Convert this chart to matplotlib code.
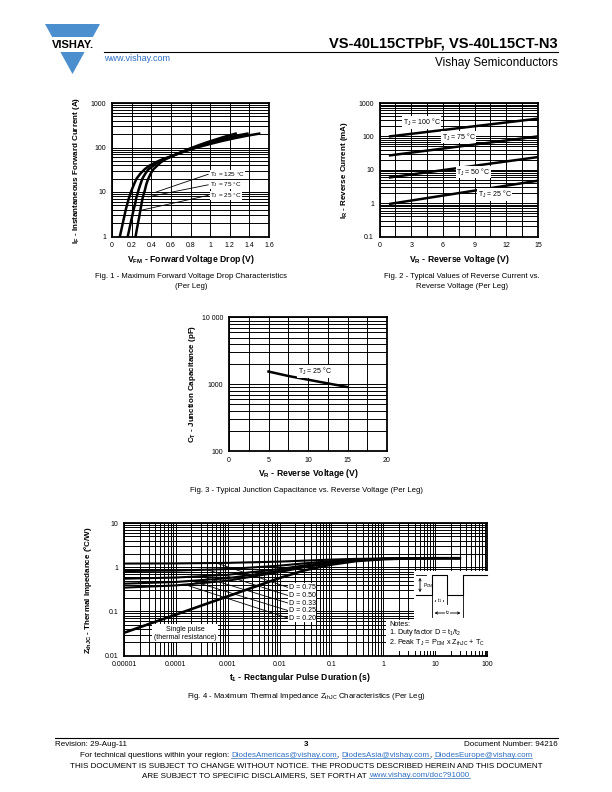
import math
import numpy as np
import matplotlib
matplotlib.use("Agg")
import matplotlib.pyplot as plt
from matplotlib import ticker
from matplotlib.patches import Polygon, Rectangle

plt.rcParams['font.family'] = ['Liberation Sans', 'DejaVu Sans']
plt.rcParams['mathtext.fontset'] = 'custom'
plt.rcParams['mathtext.rm'] = 'Liberation Sans'
plt.rcParams['mathtext.bf'] = 'Liberation Sans:bold'
plt.rcParams['mathtext.it'] = 'Liberation Sans:italic'

W, H = 612, 792

# Fig. 1 - forward voltage drop (V, A)
vf_125 = [0.08, 0.095, 0.11, 0.125, 0.14, 0.155, 0.17, 0.185, 0.20, 0.225, 0.25, 0.29, 0.33, 0.38, 0.45,
          0.52, 0.60, 0.70, 0.80, 0.90, 1.00, 1.12, 1.25, 1.37, 1.50]
if_125 = [1, 1.4, 2, 2.8, 4, 5.3, 7, 8.8, 11, 15, 20, 26, 32, 39, 47, 55, 63, 76, 90, 105, 120, 140, 162, 183, 205]
vf_75 = [0.16, 0.175, 0.19, 0.205, 0.22, 0.235, 0.245, 0.258, 0.27, 0.29, 0.31, 0.34, 0.37, 0.42, 0.47,
         0.53, 0.60, 0.70, 0.80, 0.90, 1.00, 1.10, 1.20, 1.29, 1.38]
if_75 = [1, 1.4, 2, 2.8, 4, 5.3, 7, 8.8, 11, 15, 20, 26, 32, 39, 47, 55, 63, 77, 93, 110, 128, 148, 170, 188, 205]
vf_25 = [0.24, 0.252, 0.265, 0.278, 0.29, 0.30, 0.31, 0.322, 0.335, 0.35, 0.37, 0.395, 0.42, 0.46, 0.50,
         0.55, 0.60, 0.70, 0.80, 0.90, 1.00, 1.13, 1.26]
if_25 = [1, 1.4, 2, 2.8, 4, 5.3, 7, 8.8, 11, 15, 20, 26, 32, 39, 47, 55, 62, 78, 96, 116, 138, 170, 205]

# Fig. 2 - reverse current (V, mA)
vr2 = [1, 15]
ir_100 = [100, 340]
ir_75 = [27, 100]
ir_50 = [5.9, 24]
ir_25 = [0.95, 4.7]

# Fig. 3 - junction capacitance (V, pF)
vr3 = [5, 7.5, 10, 12.5, 15]
ct = [1550, 1330, 1170, 1030, 910]

# Fig. 4 - thermal impedance (s, degC/W)
t1 = [1e-5, 1e-4, 1e-3, 1e-2, 3e-2, 0.1, 0.3, 1, 3, 10, 30]
z_single = [0.033, 0.085, 0.22, 0.57, 0.85, 1.15, 1.38, 1.52, 1.58, 1.60, 1.60]
z_d75 = [1.21, 1.22, 1.255, 1.34, 1.41, 1.49, 1.545, 1.58, 1.595, 1.60, 1.60]
z_d50 = [0.82, 0.84, 0.91, 1.085, 1.225, 1.375, 1.49, 1.56, 1.59, 1.60, 1.60]
z_d33 = [0.55, 0.585, 0.675, 0.91, 1.10, 1.30, 1.45, 1.55, 1.59, 1.60, 1.60]
z_d25 = [0.425, 0.464, 0.565, 0.83, 1.04, 1.26, 1.435, 1.54, 1.585, 1.60, 1.60]
z_d20 = [0.346, 0.388, 0.496, 0.776, 1.00, 1.24, 1.42, 1.54, 1.584, 1.60, 1.60]
d_labels = ['D = 0.75', 'D = 0.50', 'D = 0.33', 'D = 0.25', 'D = 0.20']
d_label_z = [0.35, 0.23, 0.155, 0.105, 0.071]
d_leader_t = [6e-4, 4e-4, 3e-4, 2e-4, 1.5e-4]

LINK = '#2f6fc2'

fig = plt.figure(figsize=(W / 100, H / 100), dpi=100)

page = fig.add_axes([0, 0, 1, 1], zorder=10)
page.set_xlim(0, W)
page.set_ylim(H, 0)
page.axis('off')
page.patch.set_visible(False)


def box(l, r, t, b):
    return [l / W, 1 - b / H, (r - l) / W, (b - t) / H]


def dec_fmt(v, p):
    return f'{v:.{max(0, -int(round(math.log10(v))))}f}'


def log_axes(rect, xlim, ylim, xgrid, xlab_step, ylabels):
    ax = fig.add_axes(rect)
    ax.set_yscale('log')
    ax.set_xlim(*xlim)
    ax.set_ylim(*ylim)
    ax.xaxis.set_major_locator(ticker.MultipleLocator(xlab_step))
    ax.xaxis.set_minor_locator(ticker.MultipleLocator(xgrid))
    ax.xaxis.set_major_formatter(ticker.FuncFormatter(lambda v, p: f'{v:g}' if abs(v) > 1e-9 else '0'))
    ax.yaxis.set_major_locator(ticker.LogLocator(base=10, numticks=10))
    ax.yaxis.set_minor_locator(ticker.LogLocator(base=10, subs=range(2, 10), numticks=10))
    ax.yaxis.set_major_formatter(ticker.FuncFormatter(lambda v, p: ylabels.get(round(v, 6), '')))
    ax.yaxis.set_minor_formatter(ticker.NullFormatter())
    ax.grid(which='both', color='black', lw=0.7)
    ax.tick_params(which='both', length=0, labelsize=5, pad=4)
    for s in ax.spines.values():
        s.set_linewidth(1.3)
    return ax


def label_box(ax, x, y, s, ha='left', size=5.0, pad=0.4):
    ax.text(x, y, s, fontsize=size, ha=ha, va='center',
            bbox=dict(fc='white', ec='none', pad=pad), zorder=5)


# header
page.add_patch(Polygon([[45, 24], [100, 24], [72.5, 74]], closed=True, fc='#4b8fce', ec='none'))
page.add_patch(Rectangle((44, 37), 58, 15, fc='white', ec='none'))
page.text(72.5, 45, 'VISHAY.', fontsize=8, fontweight='bold', ha='center', va='center')
page.plot([104, 558], [52, 52], color='black', lw=0.8)
page.text(558, 48, 'VS-40L15CTPbF, VS-40L15CT-N3', fontsize=10.5, fontweight='bold', ha='right', va='baseline')
page.text(104, 61, 'www.vishay.com', fontsize=6.5, color=LINK, ha='left', va='baseline')
page.text(558, 66, 'Vishay Semiconductors', fontsize=8.5, ha='right', va='baseline')

# Fig. 1
ax1 = log_axes(box(112, 269, 103, 236.5), (0, 1.6), (1, 1000), 0.2, 0.2,
               {1: '1', 10: '10', 100: '100', 1000: '1000'})
for v, i in [(vf_125, if_125), (vf_75, if_75), (vf_25, if_25)]:
    ax1.plot(v, i, color='black', lw=1.8, zorder=3, solid_joinstyle='round')
ax1.plot([0.45, 0.98], [10, 25], color='black', lw=0.6, zorder=4)
ax1.plot([0.37, 0.98], [7.8, 14.5], color='black', lw=0.6, zorder=4)
ax1.plot([0.30, 0.98], [3.9, 8.4], color='black', lw=0.6, zorder=4)
label_box(ax1, 1.0, 25, r'T$_\mathregular{J}$ = 125 °C', size=4.6, pad=0.1)
label_box(ax1, 1.0, 14.5, r'T$_\mathregular{J}$ = 75 °C', size=4.6, pad=0.1)
label_box(ax1, 1.0, 8.4, r'T$_\mathregular{J}$ = 25 °C', size=4.6, pad=0.1)
page.text(76, 170, r'I$_\mathbf{F}$ - Instantaneous Forward Current (A)', fontsize=5.8, fontweight='bold',
          rotation=90, ha='center', va='center')
page.text(191, 259, r'V$_\mathbf{FM}$ - Forward Voltage Drop (V)', fontsize=6.2, fontweight='bold',
          ha='center', va='center')
page.text(191, 277, 'Fig. 1 - Maximum Forward Voltage Drop Characteristics', fontsize=5.6, ha='center', va='center')
page.text(191, 287, '(Per Leg)', fontsize=5.6, ha='center', va='center')

# Fig. 2
ax2 = log_axes(box(379.5, 538, 103, 236.5), (0, 15), (0.1, 1000), 1.5, 3,
               {0.1: '0.1', 1: '1', 10: '10', 100: '100', 1000: '1000'})
for i in [ir_100, ir_75, ir_50, ir_25]:
    ax2.plot(vr2, i, color='black', lw=1.8, zorder=3)
label_box(ax2, 4.0, 260, r'T$_\mathregular{J}$ = 100 °C', ha='center')
label_box(ax2, 7.5, 96, r'T$_\mathregular{J}$ = 75 °C', ha='center')
label_box(ax2, 8.9, 8.6, r'T$_\mathregular{J}$ = 50 °C', ha='center')
label_box(ax2, 10.9, 1.8, r'T$_\mathregular{J}$ = 25 °C', ha='center')
page.text(344, 170, r'I$_\mathbf{R}$ - Reverse Current (mA)', fontsize=5.8, fontweight='bold',
          rotation=90, ha='center', va='center')
page.text(459, 259, r'V$_\mathbf{R}$ - Reverse Voltage (V)', fontsize=6.2, fontweight='bold',
          ha='center', va='center')
page.text(462, 277, 'Fig. 2 - Typical Values of Reverse Current vs.', fontsize=5.6, ha='center', va='center')
page.text(462, 287, 'Reverse Voltage (Per Leg)', fontsize=5.6, ha='center', va='center')

# Fig. 3
ax3 = log_axes(box(229, 387, 317.5, 451), (0, 20), (100, 10000), 2.5, 5,
               {100: '100', 1000: '1000', 10000: '10 000'})
ax3.plot(vr3, ct, color='black', lw=1.8, zorder=3)
label_box(ax3, 10.9, 1560, r'T$_\mathregular{J}$ = 25 °C', ha='center')
page.text(192, 384, r'C$_\mathbf{T}$ - Junction Capacitance (pF)', fontsize=5.8, fontweight='bold',
          rotation=90, ha='center', va='center')
page.text(308, 473, r'V$_\mathbf{R}$ - Reverse Voltage (V)', fontsize=6.2, fontweight='bold',
          ha='center', va='center')
page.text(306, 491, 'Fig. 3 - Typical Junction Capacitance vs. Reverse Voltage (Per Leg)', fontsize=5.6,
          ha='center', va='center')

# Fig. 4
ax4 = fig.add_axes(box(124, 487, 523, 655.7))
ax4.set_xscale('log')
ax4.set_yscale('log')
ax4.set_xlim(1e-5, 100)
ax4.set_ylim(0.01, 10)
for axis in [ax4.xaxis, ax4.yaxis]:
    axis.set_major_locator(ticker.LogLocator(base=10, numticks=12))
    axis.set_minor_locator(ticker.LogLocator(base=10, subs=range(2, 10), numticks=12))
    axis.set_minor_formatter(ticker.NullFormatter())
    axis.set_major_formatter(ticker.FuncFormatter(dec_fmt))
ax4.grid(which='both', color='black', lw=0.7)
ax4.tick_params(which='both', length=0, labelsize=5, pad=4)
for s in ax4.spines.values():
    s.set_linewidth(1.3)
curves = [z_d75, z_d50, z_d33, z_d25, z_d20]
for z in curves:
    ax4.plot(t1, z, color='black', lw=1.5, zorder=3)
ax4.plot(t1, z_single, color='black', lw=1.9, zorder=3)
for lab, zl, tl, zc in zip(d_labels, d_label_z, d_leader_t, curves):
    # leader line from the curve to its label
    z0 = 10 ** np.interp(np.log10(tl), np.log10(t1), np.log10(zc))
    ax4.plot([tl, 0.0145], [z0, zl], color='black', lw=0.6, zorder=4)
    ax4.text(0.015, zl, lab, fontsize=5.0, ha='left', va='center',
             bbox=dict(fc='white', ec='none', pad=0.4), zorder=5)
ax4.text(1.5e-4, 0.032, 'Single pulse\n(thermal resistance)', fontsize=5.0, ha='center', va='center',
         linespacing=1.3, bbox=dict(fc='white', ec='none', pad=1.0), zorder=5)

# notes box with pulse diagram
page.add_patch(Polygon([[414, 571], [492, 571], [492, 651], [386, 651], [386, 620], [414, 620]],
                       closed=True, fc='white', ec='none'))
page.plot([416, 431.7, 431.7, 447.3, 447.3, 463.3, 463.3, 487], [595, 595, 575, 575, 595, 595, 575, 575],
          color='black', lw=0.8)
page.plot([416, 426], [575, 575], color='black', lw=0.6)
page.annotate('', xy=(420, 575), xytext=(420, 595),
              arrowprops=dict(arrowstyle='<->', lw=0.6, mutation_scale=4))
page.text(423, 586, r'P$_\mathregular{DM}$', fontsize=3.5, ha='left', va='center')
page.plot([431.7, 431.7], [595, 617], color='black', lw=0.6)
page.plot([447.3, 447.3], [595, 604], color='black', lw=0.6)
page.plot([463.3, 463.3], [595, 617], color='black', lw=0.6)
page.annotate('', xy=(431.7, 601), xytext=(447.3, 601),
              arrowprops=dict(arrowstyle='<->', lw=0.6, mutation_scale=4))
page.text(439.5, 601, r't$_\mathregular{1}$', fontsize=3.8, ha='center', va='center',
          bbox=dict(fc='white', ec='none', pad=0.2))
page.annotate('', xy=(431.7, 613), xytext=(463.3, 613),
              arrowprops=dict(arrowstyle='<->', lw=0.6, mutation_scale=4))
page.text(447.5, 613, r't$_\mathregular{2}$', fontsize=3.8, ha='center', va='center',
          bbox=dict(fc='white', ec='none', pad=0.2))
page.text(389, 624, 'Notes:', fontsize=5.2, ha='left', va='center')
page.text(389, 633, r'1. Duty factor D = t$_\mathregular{1}$/t$_\mathregular{2}$', fontsize=5.2,
          ha='left', va='center')
page.text(389, 642.5, r'2. Peak T$_\mathregular{J}$ = P$_\mathregular{DM}$ x Z$_\mathregular{thJC}$ + T$_\mathregular{C}$',
          fontsize=5.2, ha='left', va='center')

page.text(88, 590, r'Z$_\mathbf{thJC}$ - Thermal Impedance (°C/W)', fontsize=5.8, fontweight='bold',
          rotation=90, ha='center', va='center')
page.text(300, 677, r't$_\mathbf{1}$ - Rectangular Pulse Duration (s)', fontsize=6.2, fontweight='bold',
          ha='center', va='center')
page.text(306, 696, r'Fig. 4 - Maximum Thermal Impedance Z$_\mathregular{thJC}$ Characteristics (Per Leg)',
          fontsize=5.6, ha='center', va='center')

# footer
page.plot([55, 558], [738, 738], color='black', lw=0.8)
page.text(55, 746, 'Revision: 29-Aug-11', fontsize=5.8, ha='left', va='baseline')
page.text(306, 746, '3', fontsize=5.8, fontweight='bold', ha='center', va='baseline')
page.text(558, 746, 'Document Number: 94216', fontsize=5.8, ha='right', va='baseline')

renderer = fig.canvas.get_renderer()


def chain(y, pieces, size=5.8, center=306):
    objs = []
    total = 0
    for s, col in pieces:
        t = page.text(0, y, s, fontsize=size, color=col, ha='left', va='baseline')
        w = t.get_window_extent(renderer).width
        objs.append((t, w, col))
        total += w
    x = center - total / 2
    for t, w, col in objs:
        t.set_x(x)
        if col != 'black':
            page.plot([x, x + w], [y + 1.2, y + 1.2], color=col, lw=0.5)
        x += w


chain(757, [('For technical questions within your region: ', 'black'),
            ('DiodesAmericas@vishay.com', LINK), (', ', 'black'),
            ('DiodesAsia@vishay.com', LINK), (', ', 'black'),
            ('DiodesEurope@vishay.com', LINK)])
chain(768, [('THIS DOCUMENT IS SUBJECT TO CHANGE WITHOUT NOTICE. THE PRODUCTS DESCRIBED HEREIN AND THIS DOCUMENT', 'black')])
chain(777, [('ARE SUBJECT TO SPECIFIC DISCLAIMERS, SET FORTH AT ', 'black'),
            ('www.vishay.com/doc?91000', LINK)])

fig.savefig('out.png', dpi=100)
